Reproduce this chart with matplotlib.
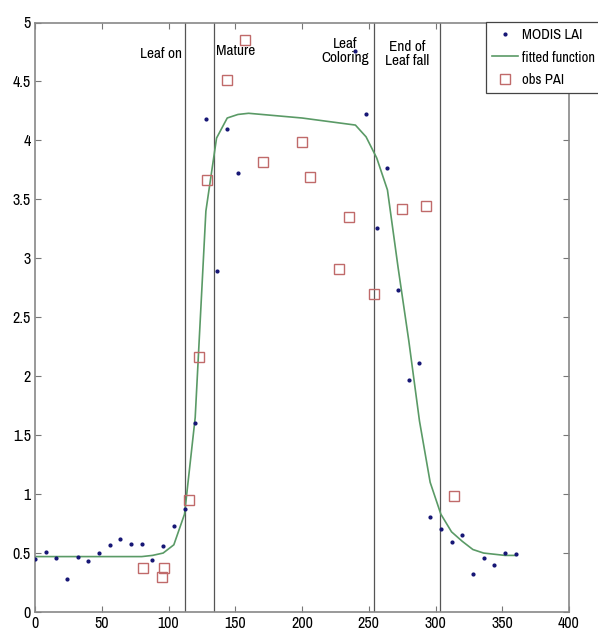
import matplotlib
matplotlib.use("Agg")
import matplotlib.pyplot as plt
from matplotlib import font_manager

# the original uses a tall, narrow Helvetica-like face; use a narrow font if one is there
names = sorted({f.name for f in font_manager.fontManager.ttflist})
narrow = [n for n in names if 'Narrow' in n or 'Condensed' in n]
if narrow:
    plt.rcParams['font.family'] = [narrow[0], 'Liberation Sans', 'DejaVu Sans']
    tick_fs, note_fs, leg_fs = 11.5, 11, 10.5
else:
    plt.rcParams['font.family'] = ['Liberation Sans', 'DejaVu Sans']
    tick_fs, note_fs, leg_fs = 11, 9.5, 9

# MODIS LAI (8-day composites)
modis_day = [0, 8, 16, 24, 32, 40, 48, 56, 64, 72, 80, 88, 96, 104, 112, 120,
             128, 136, 144, 152,
             240, 248, 256, 264, 272, 280, 288, 296, 304, 312, 320, 328, 336, 344, 352, 360]
modis_lai = [0.45, 0.51, 0.46, 0.28, 0.47, 0.43, 0.50, 0.57, 0.62, 0.58, 0.58, 0.44, 0.56, 0.73, 0.87, 1.60,
             4.18, 2.89, 4.10, 3.72,
             4.76, 4.22, 3.26, 3.77, 2.73, 1.97, 2.11, 0.81, 0.70, 0.59, 0.65, 0.32, 0.46, 0.40, 0.50, 0.49]

# fitted function
fit_day = [0, 80, 88, 96, 104, 112, 120, 128, 136, 144, 152, 160, 200, 240,
           248, 256, 264, 272, 280, 288, 296, 304, 312, 320, 328, 336, 344, 352, 360]
fit_val = [0.47, 0.47, 0.48, 0.50, 0.57, 0.83, 1.65, 3.40, 4.02, 4.19, 4.22, 4.23, 4.19, 4.13,
           4.03, 3.85, 3.58, 2.92, 2.30, 1.62, 1.10, 0.83, 0.68, 0.60, 0.53, 0.50, 0.49, 0.48, 0.48]

# observed PAI
obs_day = [81, 95, 97, 115, 123, 129, 144, 157, 171, 200, 206, 228, 235, 254, 275, 293, 314]
obs_pai = [0.37, 0.30, 0.37, 0.95, 2.16, 3.66, 4.51, 4.85, 3.82, 3.99, 3.69, 2.91, 3.35, 2.70, 3.42, 3.44, 0.98]

# phenology transition dates
phase_day = [112, 134, 254, 303]
phase_lab = ['Leaf on', 'Mature', 'Leaf\nColoring', 'End of\nLeaf fall']

fig = plt.figure(figsize=(5.98, 6.32), dpi=100)
ax = fig.add_axes([35/598, 1-612/632, 534/598, 589.5/632])

for d in phase_day:
    ax.axvline(d, color='#555555', lw=0.9, zorder=1)

ax.plot(modis_day, modis_lai, '.', color='#151575', ms=4, label='MODIS LAI', zorder=3)
ax.plot(fit_day, fit_val, '-', color='#5a9a66', lw=1.2, label='fitted function', zorder=2)
ax.plot(obs_day, obs_pai, 's', mfc='none', mec='#c06a6a', ms=7, mew=1.0, label='obs PAI', zorder=3)

ax.text(110, 4.73, phase_lab[0], ha='right', va='center', fontsize=note_fs)
ax.text(135.5, 4.76, phase_lab[1], ha='left', va='center', fontsize=note_fs)
ax.text(232, 4.76, phase_lab[2], ha='center', va='center', fontsize=note_fs, linespacing=1.0)
ax.text(279, 4.73, phase_lab[3], ha='center', va='center', fontsize=note_fs, linespacing=1.0)

ax.set_xlim(0, 400)
ax.set_ylim(0, 5)
ax.set_xticks(range(0, 401, 50))
ax.set_yticks([0, 0.5, 1, 1.5, 2, 2.5, 3, 3.5, 4, 4.5, 5])
ax.set_yticklabels(['0', '0.5', '1', '1.5', '2', '2.5', '3', '3.5', '4', '4.5', '5'])
ax.tick_params(direction='in', top=True, right=True, labelsize=tick_fs, length=4,
               color='#777777', pad=3)
for s in ax.spines.values():
    s.set_color('#888888')
    s.set_linewidth(1.2)

leg = ax.legend(loc='upper left', bbox_to_anchor=(486/598, 1-22/632),
                bbox_transform=fig.transFigure, fontsize=leg_fs, fancybox=False,
                framealpha=1, edgecolor='#444444', borderpad=0.4, labelspacing=0.6,
                handlelength=1.8, handletextpad=0.3, borderaxespad=0)
leg.get_frame().set_linewidth(0.9)

fig.savefig('out.png', dpi=100)
